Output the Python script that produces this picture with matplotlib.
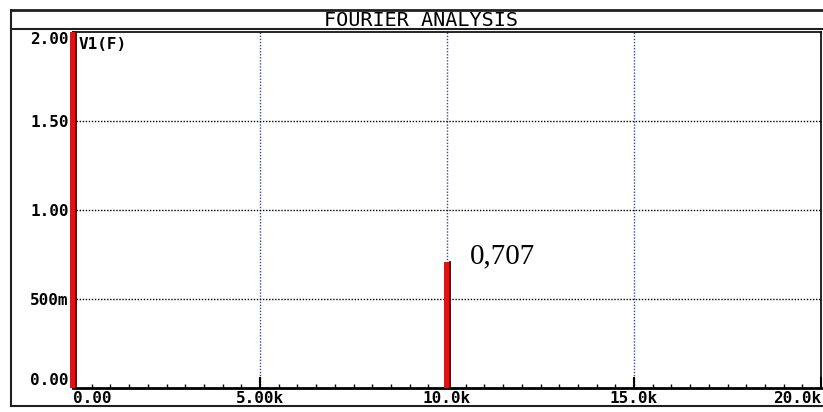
import matplotlib
matplotlib.use("Agg")
import matplotlib.pyplot as plt
from matplotlib.lines import Line2D

# spectrum lines (Hz, V)
freqs = [0, 10000]
amps = [2.0, 0.707]          # DC line runs off the top of the plot
x_ticks = [0, 5000, 10000, 15000, 20000]
x_labels = ["0.00", "5.00k", "10.0k", "15.0k", "20.0k"]
y_ticks = [0.0, 0.5, 1.0, 1.5, 2.0]
y_labels = ["0.00", "500m", "1.00", "1.50", "2.00"]
trace_name = "V1(F)"
note_text = "0,707"

mono = "DejaVu Sans Mono"
red = "#e01218"

fig = plt.figure(figsize=(8.23, 4.12), dpi=100)
W, H = 823, 412
ax = fig.add_axes([73 / W, 1 - 388 / H, (821 - 73) / W, (388 - 32) / H])

ax.set_xlim(0, 20000)
ax.set_ylim(0, 2.0)

# grid: blue dotted verticals, black dotted horizontals
for xv in x_ticks[1:-1]:
    ax.axvline(xv, color="#3a4a8c", linestyle=(0, (1, 1.2)), lw=1.0, zorder=1)
for yv in y_ticks[1:-1]:
    ax.axhline(yv, color="black", linestyle=(0, (1, 1.2)), lw=1.0, zorder=1)

bars = ax.bar(freqs, amps, width=185, color=red, edgecolor="none", zorder=3)
for b in bars:
    b.set_clip_on(False)
    # thin dark edge on the right side of each line
    xr = b.get_x() + b.get_width()
    ax.plot([xr, xr], [0, b.get_height()], color="#201010", lw=1.3, zorder=3,
            clip_on=False)

ax.set_xticks(x_ticks)
ax.set_xticklabels(x_labels)
ax.set_xticks(range(0, 20001, 500), minor=True)
ax.set_yticks(y_ticks)
ax.set_yticklabels(y_labels)
ax.tick_params(axis="x", which="major", direction="in", length=8, width=1.5,
               pad=2, labelsize=11.5)
ax.tick_params(axis="x", which="minor", direction="in", length=3, width=1.0)
ax.tick_params(axis="y", which="both", length=0, pad=3, labelsize=11.5)
for lab in ax.get_xticklabels() + ax.get_yticklabels():
    lab.set_fontfamily(mono)
    lab.set_fontweight("bold")
xl = ax.get_xticklabels()
xl[0].set_ha("left")
xl[-1].set_ha("right")
yl = ax.get_yticklabels()
yl[0].set_va("bottom")
yl[-1].set_va("top")

for side in ["left", "right", "top"]:
    ax.spines[side].set_linewidth(1.2)
ax.spines["bottom"].set_linewidth(2.0)

ax.text(0.007, 0.985, trace_name, transform=ax.transAxes, ha="left", va="top",
        family=mono, fontweight="bold", fontsize=11.5)
ax.text(10600, 0.70, note_text, ha="left", va="baseline",
        family="Liberation Serif", fontsize=21, zorder=4)

# outer frame and title bar
def hline(y, x0, x1, lw):
    fig.add_artist(Line2D([x0 / W, x1 / W], [1 - y / H, 1 - y / H],
                          color="#202020", lw=lw))

hline(10, 11, 823, 2.0)
hline(29, 11, 823, 1.5)
hline(406, 11, 823, 1.5)
fig.add_artist(Line2D([11 / W, 11 / W], [1 - 10 / H, 1 - 406 / H],
                      color="#202020", lw=1.5))
fig.text(421 / W, 1 - 18 / H, "FOURIER ANALYSIS", ha="center", va="center_baseline",
         family=mono, fontsize=14.5)

fig.savefig("out.png", dpi=100)
